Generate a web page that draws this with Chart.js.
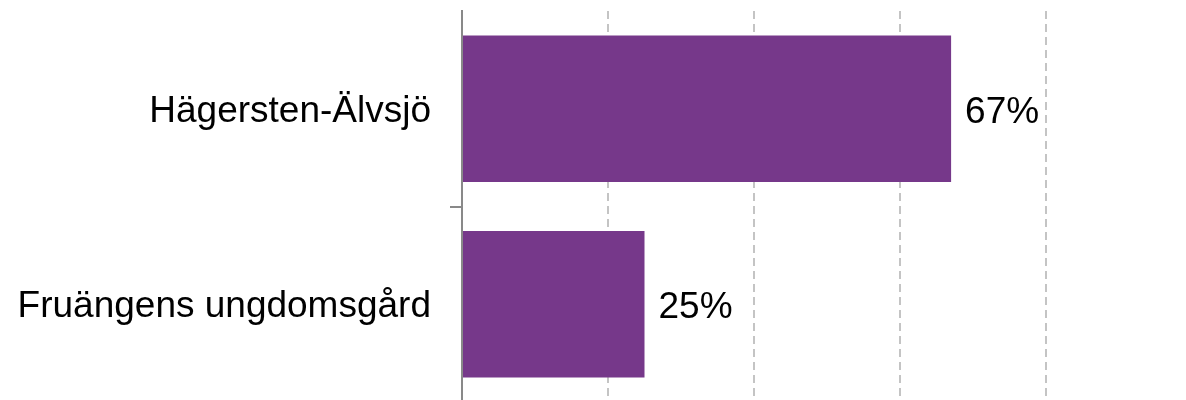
<!DOCTYPE html>
<html>
<head>
<meta charset="utf-8">
<script src="https://cdn.jsdelivr.net/npm/chart.js@4/dist/chart.umd.min.js"></script>
<style>
html,body{margin:0;padding:0;background:#fff;overflow:hidden;}
#wrap{position:relative;width:1186px;height:402px;}
</style>
</head>
<body>
<div id="wrap"><canvas id="c"></canvas></div>
<script>
const categories = ["Hägersten-Älvsjö", "Fruängens ungdomsgård"];
const values = [67, 25];
const valueLabels = ["67%", "25%"];
const xTicks = [0, 20, 40, 60, 80];

const FONT = "'Liberation Sans', Arial, sans-serif";

const valueLabelPlugin = {
  id: 'valueLabels',
  afterDatasetsDraw(chart) {
    const ctx = chart.ctx;
    const meta = chart.getDatasetMeta(0);
    ctx.save();
    ctx.font = "37px " + FONT;
    ctx.fillStyle = "#000";
    ctx.textAlign = "left";
    ctx.textBaseline = "middle";
    meta.data.forEach((bar, i) => {
      ctx.fillText(valueLabels[i], bar.x + 14, bar.y + 4);
    });
    ctx.restore();
  }
};

new Chart(document.getElementById('c'), {
  type: 'bar',
  data: {
    labels: categories,
    datasets: [{
      data: values,
      backgroundColor: '#76388A',
      borderWidth: 0,
      categoryPercentage: 0.75,
      barPercentage: 1.0
    }]
  },
  options: {
    indexAxis: 'y',
    responsive: true,
    maintainAspectRatio: false,
    animation: false,
    layout: { padding: { top: 11, right: 140, bottom: 0, left: 0 } },
    plugins: { legend: { display: false }, tooltip: { enabled: false } },
    scales: {
      x: {
        min: 0, max: 80,
        afterBuildTicks(scale) { scale.ticks = xTicks.map(v => ({ value: v })); },
        afterFit(scale) {
          scale.height = 0;
          scale.paddingLeft = 0; scale.paddingRight = 0;
          scale.paddingTop = 0; scale.paddingBottom = 0;
        },
        ticks: { display: false },
        grid: {
          color: ctx => ctx.index === 0 ? 'transparent' : '#c4c4c4',
          lineWidth: 2,
          drawTicks: false
        },
        border: { display: false, dash: [8, 5] }
      },
      y: {
        afterFit(scale) {
          scale.width = 462;
          scale.paddingLeft = 0; scale.paddingRight = 0;
          scale.paddingTop = 0; scale.paddingBottom = 0;
        },
        ticks: {
          color: '#000',
          font: { family: FONT, size: 37 },
          padding: 19,
          labelOffset: 3
        },
        border: { display: true, color: '#898989', width: 2 },
        grid: {
          drawOnChartArea: false,
          drawTicks: true,
          tickLength: 12,
          lineWidth: 2,
          color: ctx => ctx.index === 1 ? '#898989' : 'transparent'
        }
      }
    }
  },
  plugins: [valueLabelPlugin]
});
</script>
</body>
</html>
